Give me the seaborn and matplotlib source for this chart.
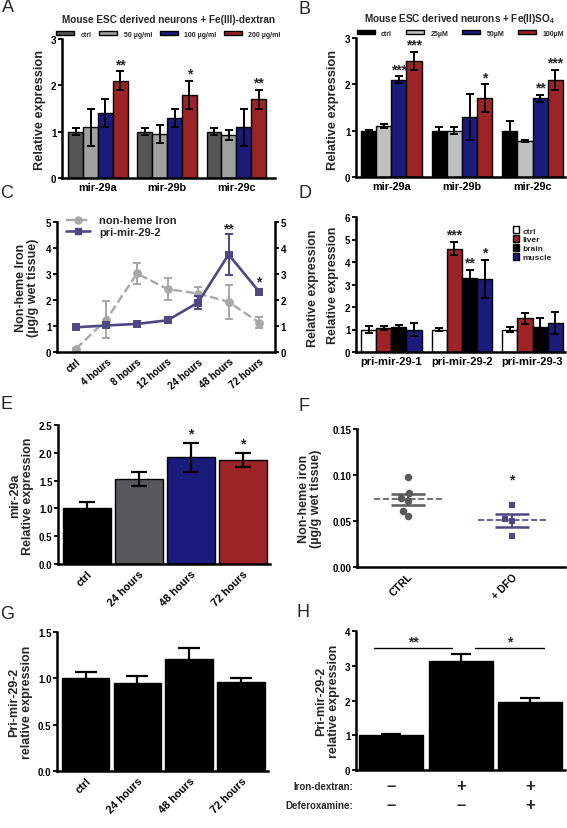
"""
Iron / mir-29 expression figure, panels A-H.
"""

import matplotlib

matplotlib.use("Agg")

import matplotlib.pyplot as plt
import numpy as np
import pandas as pd
import seaborn as sns
from matplotlib.lines import Line2D

# ---- values ----
MIR_GROUPS = ["mir-29a", "mir-29b", "mir-29c"]

A_DOSES = ["ctrl", "50 µg/ml", "100 µg/ml", "200 µg/ml"]
A_MEAN = [[1.0, 1.1, 1.4, 2.1], [1.0, 0.95, 1.3, 1.8], [1.0, 0.93, 1.1, 1.7]]
A_SEM = [[0.07, 0.4, 0.3, 0.2], [0.08, 0.2, 0.2, 0.3], [0.07, 0.1, 0.4, 0.2]]
A_STARS = [(0, 3, "**"), (1, 3, "*"), (2, 3, "**")]

B_DOSES = ["ctrl", "25µM", "50µM", "100µM"]
B_MEAN = [[1.0, 1.1, 2.1, 2.5], [1.0, 1.0, 1.3, 1.7], [1.0, 0.78, 1.7, 2.1]]
B_SEM = [[0.02, 0.04, 0.08, 0.2], [0.08, 0.08, 0.5, 0.3], [0.2, 0.02, 0.08, 0.22]]
B_STARS = [(0, 2, "***"), (0, 3, "***"), (1, 3, "*"), (2, 2, "**"), (2, 3, "***")]

C_TIMES = ["ctrl", "4 hours", "8 hours", "12 hours", "24 hours", "48 hours", "72 hours"]
C_IRON = [0.12, 1.25, 3.02, 2.42, 2.25, 1.93, 1.13]
C_IRON_SEM = [0.04, 0.72, 0.4, 0.42, 0.25, 0.65, 0.2]
C_PRI = [0.95, 1.02, 1.08, 1.22, 1.9, 3.75, 2.32]
C_PRI_SEM = [0.1, 0.05, 0.05, 0.04, 0.25, 0.77, 0.12]
C_STARS = [(5, 4.5, "**"), (6, 2.45, "*")]

D_GROUPS = ["pri-mir-29-1", "pri-mir-29-2", "pri-mir-29-3"]
D_TISSUES = ["ctrl", "liver", "brain", "muscle"]
D_MEAN = [[1.0, 1.08, 1.1, 1.0], [1.0, 4.6, 3.3, 3.25], [1.0, 1.5, 1.1, 1.3]]
D_SEM = [[0.15, 0.08, 0.08, 0.3], [0.08, 0.3, 0.35, 0.85], [0.1, 0.25, 0.4, 0.5]]
D_STARS = [(1, 1, "***"), (1, 2, "**"), (1, 3, "*")]

E_TIMES = ["ctrl", "24 hours", "48 hours", "72 hours"]
E_MEAN = [1.0, 1.53, 1.92, 1.87]
E_SEM = [0.12, 0.12, 0.26, 0.12]
E_STARS = [(2, "*"), (3, "*")]

F_GROUPS = ["CTRL", "+ DFO"]
F_CTRL = [0.098, 0.080, 0.075, 0.072, 0.061, 0.055]
F_DFO = [0.067, 0.052, 0.050, 0.034]

G_TIMES = ["ctrl", "24 hours", "48 hours", "72 hours"]
G_MEAN = [1.0, 0.95, 1.21, 0.96]
G_SEM = [0.07, 0.08, 0.12, 0.04]

H_MEAN = [1.0, 3.15, 1.96]
H_SEM = [0.04, 0.2, 0.12]
H_IRON = ["–", "+", "+"]
H_DFO = ["–", "–", "+"]

# colours
NAVY = "#0b0b8c"
RED = "#b01014"
PURPLE = "#4d4884"
GREY_LINE = "#a8a8a8"

W, H = 567, 829

sns.set_style("ticks")
plt.rcParams["font.family"] = ["Liberation Sans", "DejaVu Sans"]
plt.rcParams["font.weight"] = "bold"
plt.rcParams["axes.labelweight"] = "bold"
plt.rcParams["mathtext.default"] = "regular"
plt.rcParams["axes.edgecolor"] = "black"
plt.rcParams["xtick.color"] = "black"
plt.rcParams["ytick.color"] = "black"

fig = plt.figure(figsize=(W / 100, H / 100), dpi=100)


def px_axes(left, top, right, bottom):
    return fig.add_axes([left / W, 1 - bottom / H, (right - left) / W, (bottom - top) / H])


def fig_text(x, y, s, **kw):
    kw.setdefault("ha", "center")
    kw.setdefault("va", "center")
    return fig.text(x / W, 1 - y / H, s, **kw)


def style_ax(ax, ylim, yticks, fmt="{:g}", xsize=7.8):
    sns.despine(ax=ax)
    for s in ("left", "bottom"):
        ax.spines[s].set_linewidth(1.8)
    ax.set_ylim(*ylim)
    ax.set_yticks(yticks)
    ax.set_yticklabels([fmt.format(t) for t in yticks])
    ax.tick_params(axis="y", length=3, width=1.3, labelsize=7, pad=1)
    ax.tick_params(axis="x", length=0, labelsize=xsize, pad=3)
    ax.set_xlabel("")
    ax.set_ylabel("")


def rotate_xticks(ax, angle):
    for lab in ax.get_xticklabels():
        lab.set_rotation(angle)
        lab.set_ha("right")
        lab.set_rotation_mode("anchor")


def grouped_bars(ax, groups, levels, means, sems, colors, stars):
    df = pd.DataFrame(
        [(g, lv, means[i][j]) for i, g in enumerate(groups) for j, lv in enumerate(levels)],
        columns=["group", "level", "value"],
    )
    sns.barplot(data=df, x="group", y="value", hue="level", order=groups, hue_order=levels,
                palette=colors, width=0.86, edgecolor="black", linewidth=1.0,
                errorbar=None, legend=False, ax=ax)
    bars = list(ax.containers)
    xs, ys, es = [], [], []
    for j, cont in enumerate(bars):
        for i, patch in enumerate(cont):
            xs.append(patch.get_x() + patch.get_width() / 2)
            ys.append(patch.get_height())
            es.append(sems[i][j])
    ax.errorbar(xs, ys, yerr=es, fmt="none", ecolor="black", elinewidth=1.4,
                capsize=3, capthick=1.4)
    for i, j, s in stars:
        p = bars[j][i]
        ax.text(p.get_x() + p.get_width() / 2, means[i][j] + sems[i][j], s,
                ha="center", va="bottom", fontsize=10)
    return [c[0] for c in bars]


def simple_bars(ax, labels, means, sems, colors, capsize):
    sns.barplot(x=labels, y=means, hue=labels, palette=colors, width=0.92,
                edgecolor="black", linewidth=1.0, errorbar=None, legend=False, ax=ax)
    ax.errorbar(np.arange(len(means)), means, yerr=sems, fmt="none", ecolor="black",
                elinewidth=1.6, capsize=capsize, capthick=1.6)


# ---------------- A ----------------
axA = px_axes(62, 40, 275, 179)
hA = grouped_bars(axA, MIR_GROUPS, A_DOSES, A_MEAN, A_SEM,
                  ["#555555", "#a0a0a0", NAVY, RED], A_STARS)
axA.set_xlim(-0.52, 2.56)
style_ax(axA, (0, 3), [0, 1, 2, 3])
axA.legend(hA, A_DOSES, loc="lower center", bbox_to_anchor=(0.5, 1.01), ncol=4,
           frameon=False, fontsize=5, handlelength=2.6, handleheight=0.55,
           columnspacing=1.1, handletextpad=0.9, borderaxespad=0, borderpad=0)
fig_text(168, 20, "Mouse ESC derived neurons + Fe(III)-dextran", fontsize=7.2)
fig_text(40, 110, "Relative expression", rotation=90, fontsize=9.2)

# ---------------- B ----------------
axB = px_axes(356, 39, 565, 178)
hB = grouped_bars(axB, MIR_GROUPS, B_DOSES, B_MEAN, B_SEM,
                  ["#000000", "#c0c0c0", NAVY, RED], B_STARS)
axB.set_xlim(-0.5, 2.46)
style_ax(axB, (0, 3), [0, 1, 2, 3])
axB.legend(hB, B_DOSES, loc="lower center", bbox_to_anchor=(0.5, 1.01), ncol=4,
           frameon=False, fontsize=5, handlelength=2.6, handleheight=0.55,
           columnspacing=2.0, handletextpad=0.9, borderaxespad=0, borderpad=0)
fig_text(460, 19, "Mouse ESC derived neurons + Fe(II)SO$_4$", fontsize=7.2)
fig_text(333, 110, "Relative expression", rotation=90, fontsize=9.2)

# ---------------- C ----------------
axC = px_axes(57, 223, 275, 353)
sns.pointplot(x=C_TIMES, y=C_IRON, color=GREY_LINE, markers="o", linestyles="--",
              errorbar=None, markersize=5, linewidth=1.7, ax=axC)
axC.errorbar(np.arange(len(C_TIMES)), C_IRON, yerr=C_IRON_SEM, fmt="none",
             ecolor=GREY_LINE, elinewidth=1.4, capsize=3, capthick=1.4)
sns.pointplot(x=C_TIMES, y=C_PRI, color=PURPLE, markers="s", linestyles="-",
              errorbar=None, markersize=5, linewidth=1.9, ax=axC)
axC.errorbar(np.arange(len(C_TIMES)), C_PRI, yerr=C_PRI_SEM, fmt="none",
             ecolor=PURPLE, elinewidth=1.4, capsize=3, capthick=1.4)
for i, y, s in C_STARS:
    axC.text(i, y, s, ha="center", va="bottom", fontsize=10)
axC.set_xlim(-0.62, 6.52)
style_ax(axC, (0, 5), [0, 1, 2, 3, 4, 5], xsize=7)
rotate_xticks(axC, 40)
axC2 = axC.twinx()
axC2.set_ylim(0, 5)
axC2.set_yticks([0, 1, 2, 3, 4, 5])
for s in ("top", "left", "bottom"):
    axC2.spines[s].set_visible(False)
axC2.spines["right"].set_linewidth(1.8)
axC2.tick_params(axis="y", length=3, width=1.3, labelsize=7, pad=1)
axC2.grid(False)
leg_handles = [
    Line2D([], [], color=GREY_LINE, marker="o", linestyle="--", markersize=5, linewidth=1.7),
    Line2D([], [], color=PURPLE, marker="s", linestyle="-", markersize=5, linewidth=1.9),
]
axC.legend(leg_handles, ["non-heme Iron", "pri-mir-29-2"], loc="upper left",
           bbox_to_anchor=(0.04, 1.05), frameon=False, fontsize=8,
           handlelength=2.2, labelspacing=0.1, borderaxespad=0, borderpad=0)
fig_text(27, 288, "Non-heme Iron\n(µg/g wet tissue)", rotation=90, fontsize=9,
         linespacing=1.1)
fig_text(313, 288, "Relative expression", rotation=90, fontsize=9)

# ---------------- D ----------------
axD = px_axes(356, 218, 565, 353)
hD = grouped_bars(axD, D_GROUPS, D_TISSUES, D_MEAN, D_SEM,
                  ["#ffffff", RED, "#000000", NAVY], D_STARS)
axD.set_xlim(-0.5, 2.46)
style_ax(axD, (0, 6), [0, 1, 2, 3, 4, 5, 6], xsize=8)
axD.legend(hD, D_TISSUES, loc="upper left", bbox_to_anchor=(0.75, 0.93),
           frameon=False, fontsize=6, handlelength=0.8, handleheight=0.8,
           handletextpad=0.4, labelspacing=0.1, borderaxespad=0, borderpad=0)
fig_text(333, 285, "Relative expression", rotation=90, fontsize=9)

# ---------------- E ----------------
axE = px_axes(58, 426, 270, 565)
simple_bars(axE, E_TIMES, E_MEAN, E_SEM, ["#000000", "#58585a", NAVY, RED], 6)
for i, s in E_STARS:
    axE.text(i, E_MEAN[i] + E_SEM[i] + 0.05, s, ha="center", va="bottom", fontsize=10)
axE.set_xlim(-0.55, 3.52)
style_ax(axE, (0, 2.5), [0.0, 0.5, 1.0, 1.5, 2.0, 2.5], fmt="{:.1f}")
rotate_xticks(axE, 45)
fig_text(22, 496, "mir-29a\nRelative expression", rotation=90, fontsize=9,
         linespacing=1.1)

# ---------------- F ----------------
axF = px_axes(357, 430, 565, 568)
sns.swarmplot(x=["CTRL"] * len(F_CTRL), y=F_CTRL, order=F_GROUPS, color="#595959",
              marker="o", size=5.4, ax=axF)
sns.swarmplot(x=["+ DFO"] * len(F_DFO), y=F_DFO, order=F_GROUPS, color=PURPLE,
              marker="s", size=4.8, ax=axF)
for i, (vals, col) in enumerate([(F_CTRL, "#595959"), (F_DFO, PURPLE)]):
    m = np.mean(vals)
    se = np.std(vals, ddof=1) / np.sqrt(len(vals))
    axF.hlines(m, i - 0.33, i + 0.33, colors=col, linestyles="--", linewidth=1.2)
    axF.errorbar([i], [m], yerr=[se], fmt="none", ecolor=col, elinewidth=1.5,
                 capsize=12, capthick=1.8)
axF.text(1, 0.088, "*", ha="center", va="bottom", fontsize=10)
axF.set_xlim(-0.49, 1.51)
style_ax(axF, (0, 0.15), [0.0, 0.05, 0.10, 0.15], fmt="{:.2f}", xsize=7.5)
rotate_xticks(axF, 45)
fig_text(310, 499, "Non-heme iron\n(µg/g wet tissue)", rotation=90, fontsize=9,
         linespacing=1.1)

# ---------------- G ----------------
axG = px_axes(57, 633, 268, 772)
simple_bars(axG, G_TIMES, G_MEAN, G_SEM, ["#000000"] * 4, 8)
axG.set_xlim(-0.55, 3.52)
style_ax(axG, (0, 1.5), [0.0, 0.5, 1.0, 1.5], fmt="{:.1f}")
rotate_xticks(axG, 45)
fig_text(21, 702, "Pri-mir-29-2\nrelative expression", rotation=90, fontsize=9,
         linespacing=1.1)

# ---------------- H ----------------
axH = px_axes(356, 632, 565, 771)
simple_bars(axH, ["g1", "g2", "g3"], H_MEAN, H_SEM, ["#000000"] * 3, 7)
axH.set_xlim(-0.51, 2.5)
style_ax(axH, (0, 4), [0, 1, 2, 3, 4])
axH.set_xticklabels([])
axH.plot([-0.25, 0.87], [3.52, 3.52], color="black", linewidth=1.0)
axH.plot([1.2, 2.2], [3.52, 3.52], color="black", linewidth=1.0)
axH.text(0.31, 3.5, "**", ha="center", va="bottom", fontsize=10)
axH.text(1.7, 3.5, "*", ha="center", va="bottom", fontsize=10)
tr = axH.get_xaxis_transform()
for i in range(3):
    axH.text(i, -0.115, H_IRON[i], transform=tr, ha="center", va="center",
             fontsize=12, clip_on=False)
    axH.text(i, -0.25, H_DFO[i], transform=tr, ha="center", va="center",
             fontsize=12, clip_on=False)
fig_text(353, 787, "Iron-dextran:", ha="right", fontsize=7)
fig_text(353, 806, "Deferoxamine:", ha="right", fontsize=7)
fig_text(328, 701, "Pri-mir-29-2\nrelative expression", rotation=90, fontsize=9,
         linespacing=1.1)

# panel letters
for letter, x, y in [("A", 2, 8), ("B", 299, 10), ("C", 0, 194), ("D", 299, 193),
                     ("E", 0, 405), ("F", 299, 407), ("G", 0, 615), ("H", 297, 613)]:
    fig_text(x, y, letter, ha="left", fontsize=13, fontweight="normal")

fig.savefig("out.png", dpi=100)
